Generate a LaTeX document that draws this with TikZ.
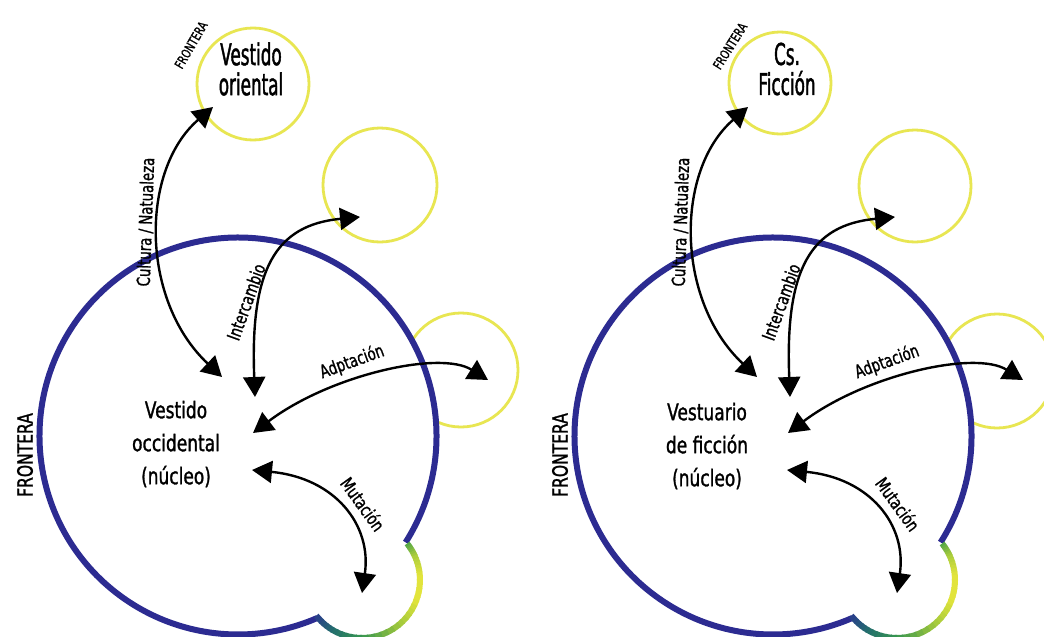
\documentclass[tikz,border=0pt]{standalone}
\usepackage{fontspec}
\setmainfont{DejaVu Sans}[FakeStretch=0.74,FakeBold=1.2]
\newfontfamily\titlefont{DejaVu Sans}[FakeStretch=0.56,FakeBold=1.4]
\usetikzlibrary{arrows.meta}

\newlength{\du}
\setlength{\du}{10pt}

\definecolor{fronteracolor}{RGB}{44,43,145}
\definecolor{satcolor}{RGB}{232,230,82}
\definecolor{mutA}{RGB}{80,165,72}
\definecolor{mutB}{RGB}{170,205,60}
\definecolor{mutC}{RGB}{226,228,60}
\definecolor{mutD}{RGB}{160,200,60}
\definecolor{mutE}{RGB}{55,150,80}
\definecolor{mutF}{RGB}{35,110,110}
\definecolor{mutG}{RGB}{42,62,140}

\tikzset{
  frontera/.style={draw=fronteracolor, line width=0.6\du},
  mutacion/.style={line width=0.6\du, line cap=butt},
  satelite/.style={circle, draw=satcolor, line width=0.28\du, inner sep=0pt},
  flujo/.style={draw=black, line width=2.4pt,
    {Triangle[length=20pt,width=22pt]}-{Triangle[length=20pt,width=22pt]}},
  nucleo/.style={align=center, font=\fontsize{23}{33}\selectfont, inner sep=0pt},
  titulo/.style={align=center, font=\titlefont\fontsize{30}{30}\selectfont, inner sep=0pt},
  etiqueta/.style={font=\fontsize{18}{18}\selectfont, inner sep=0pt},
  borde/.style={font=\fontsize{21}{21}\selectfont, inner sep=0pt},
  bordechico/.style={font=\fontsize{13}{13}\selectfont, inner sep=0pt}
}

\begin{document}
\begin{tikzpicture}
\pgftransformxscale{1.000000}
\pgftransformyscale{-1.000000}
\path[fill=white,use as bounding box] (0\du,0\du) rectangle (104.4\du,63.7\du);

% panel izquierdo
\begin{scope}
\node[satelite, minimum size=11.2\du] (sat1a) at (25.3\du,8.4\du) {};
\node[satelite, minimum size=11.4\du] (sat2a) at (38.0\du,18.5\du) {};
\node[satelite, minimum size=11.4\du] (sat3a) at (46.1\du,37.0\du) {};
\coordinate (c1a) at (23.8\du,43.6\du);
\coordinate (nca) at (36.2\du,58.0\du);
\fill[white] (c1a) circle[radius=19.85\du];
\draw[frontera] ([shift={(32.4:19.85\du)}]c1a) arc[start angle=32.4, end angle=-293.6, radius=19.85\du];
\foreach \ini/\fin/\ca/\cb in {-39/-25/mutA/mutB, -25/-5/mutB/mutC, -5/20/mutC/mutC, 20/50/mutC/mutD, 50/90/mutD/mutE, 90/120/mutE/mutF, 120/141/mutF/mutG}{
  \foreach \k in {0,...,5}{
    \pgfmathsetmacro{\desde}{(\ini)+((\fin)-(\ini))*\k/6}
    \pgfmathsetmacro{\hasta}{(\ini)+((\fin)-(\ini))*(\k+1.3)/6}
    \pgfmathtruncatemacro{\mezcla}{100*(\k+0.5)/6}
    \draw[mutacion, draw=\cb!\mezcla!\ca] ([shift={(\desde:5.8\du)}]nca) arc[start angle=\desde, end angle=\hasta, radius=5.8\du];
  }
}
\node[nucleo] (nucleoa) at (17.6\du,44.4\du) {Vestido\\occidental\\(núcleo)};
\node[titulo] (tituloa) at (25.1\du,6.9\du) {Vestido\\oriental};
\node[borde, rotate=90] (fronteraa) at (2.5\du,45.5\du) {FRONTERA};
\node[bordechico, rotate=60] (fronterachicaa) at (19.1\du,4.5\du) {FRONTERA};
% flechas
\coordinate (a1ia) at (22.2\du,37.7\du);
\coordinate (a1fa) at (21.3\du,10.7\du);
\coordinate (a2ia) at (25.5\du,39.7\du);
\coordinate (a2fa) at (36.0\du,21.7\du);
\coordinate (a3ia) at (25.3\du,43.3\du);
\coordinate (a3fa) at (48.8\du,38.0\du);
\coordinate (a4ia) at (25.2\du,47.0\du);
\coordinate (a4fa) at (36.2\du,59.3\du);
\draw[flujo] (a1ia) .. controls (14.0\du,30.0\du) and (14.0\du,17.0\du) .. (a1fa);
\draw[flujo] (a2ia) .. controls (25.0\du,27.0\du) and (27.5\du,22.5\du) .. (a2fa);
\draw[flujo] (a3ia) .. controls (33.0\du,37.5\du) and (44.0\du,35.0\du) .. (a3fa);
\draw[flujo] (a4ia) .. controls (33.5\du,47.8\du) and (37.2\du,52.5\du) .. (a4fa);
\node[etiqueta, rotate=88] (culturaa) at (14.6\du,22.2\du) {Cultura / Natualeza};
\node[etiqueta, rotate=70] (intercambioa) at (24.6\du,30.2\du) {Intercambio};
\node[etiqueta, rotate=20] (adaptaciona) at (35.2\du,36.2\du) {Adptación};
\node[etiqueta, rotate=-54] (mutaciona) at (36.3\du,50.4\du) {Mutación};
\end{scope}

% panel derecho
\begin{scope}[xshift=53.5\du]
\node[satelite, minimum size=10.2\du] (sat1b) at (24.5\du,8.3\du) {};
\node[satelite, minimum size=11.2\du] (sat2b) at (38.0\du,18.6\du) {};
\node[satelite, minimum size=11.4\du] (sat3b) at (46.2\du,37.1\du) {};
\coordinate (c1b) at (23.8\du,43.6\du);
\coordinate (ncb) at (36.2\du,58.0\du);
\fill[white] (c1b) circle[radius=19.85\du];
\draw[frontera] ([shift={(32.4:19.85\du)}]c1b) arc[start angle=32.4, end angle=-293.6, radius=19.85\du];
\foreach \ini/\fin/\ca/\cb in {-39/-25/mutA/mutB, -25/-5/mutB/mutC, -5/20/mutC/mutC, 20/50/mutC/mutD, 50/90/mutD/mutE, 90/120/mutE/mutF, 120/141/mutF/mutG}{
  \foreach \k in {0,...,5}{
    \pgfmathsetmacro{\desde}{(\ini)+((\fin)-(\ini))*\k/6}
    \pgfmathsetmacro{\hasta}{(\ini)+((\fin)-(\ini))*(\k+1.3)/6}
    \pgfmathtruncatemacro{\mezcla}{100*(\k+0.5)/6}
    \draw[mutacion, draw=\cb!\mezcla!\ca] ([shift={(\desde:5.8\du)}]ncb) arc[start angle=\desde, end angle=\hasta, radius=5.8\du];
  }
}
\node[nucleo] (nucleob) at (17.2\du,44.6\du) {Vestuario\\de ficción\\(núcleo)};
\node[titulo] (titulob) at (25.2\du,6.9\du) {Cs.\\Ficción};
\node[borde, rotate=90] (fronterab) at (2.5\du,45.5\du) {FRONTERA};
\node[bordechico, rotate=58] (fronterachicab) at (19.5\du,4.6\du) {FRONTERA};
% flechas
\coordinate (a1ib) at (22.2\du,37.7\du);
\coordinate (a1fb) at (21.3\du,10.7\du);
\coordinate (a2ib) at (25.5\du,39.7\du);
\coordinate (a2fb) at (36.0\du,21.7\du);
\coordinate (a3ib) at (25.3\du,43.3\du);
\coordinate (a3fb) at (48.8\du,38.0\du);
\coordinate (a4ib) at (25.2\du,47.0\du);
\coordinate (a4fb) at (36.2\du,59.3\du);
\draw[flujo] (a1ib) .. controls (14.0\du,30.0\du) and (14.0\du,17.0\du) .. (a1fb);
\draw[flujo] (a2ib) .. controls (25.0\du,27.0\du) and (27.5\du,22.5\du) .. (a2fb);
\draw[flujo] (a3ib) .. controls (33.0\du,37.5\du) and (44.0\du,35.0\du) .. (a3fb);
\draw[flujo] (a4ib) .. controls (33.5\du,47.8\du) and (37.2\du,52.5\du) .. (a4fb);
\node[etiqueta, rotate=88] (culturab) at (14.6\du,22.2\du) {Cultura / Natualeza};
\node[etiqueta, rotate=70] (intercambiob) at (24.6\du,30.2\du) {Intercambio};
\node[etiqueta, rotate=20] (adaptacionb) at (35.2\du,36.2\du) {Adptación};
\node[etiqueta, rotate=-54] (mutacionb) at (36.3\du,50.4\du) {Mutación};
\end{scope}
\end{tikzpicture}
\end{document}
